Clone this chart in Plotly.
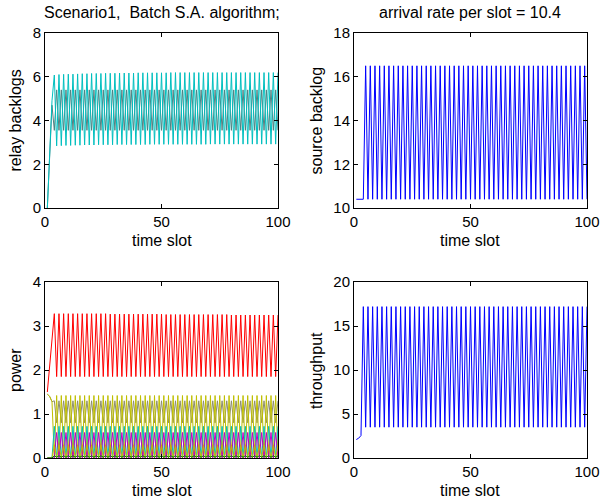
import plotly.graph_objects as go

W, H = 603, 502

time_slot = list(range(1, 101))

relay_teal = [
    0.00, 2.60, 4.90, 6.08, 2.84, 6.10, 2.85, 6.11, 2.86, 6.12,
    2.86, 6.12, 2.87, 6.13, 2.87, 6.14, 2.88, 6.14, 2.88, 6.15,
    2.88, 6.15, 2.89, 6.15, 2.89, 6.16, 2.89, 6.16, 2.89, 6.16,
    2.90, 6.17, 2.90, 6.17, 2.90, 6.17, 2.90, 6.17, 2.90, 6.18,
    2.90, 6.18, 2.90, 6.18, 2.91, 6.18, 2.91, 6.18, 2.91, 6.18,
    2.91, 6.18, 2.91, 6.19, 2.91, 6.19, 2.91, 6.19, 2.91, 6.19,
    2.91, 6.19, 2.91, 6.19, 2.91, 6.19, 2.91, 6.19, 2.91, 6.19,
    2.92, 6.19, 2.92, 6.19, 2.92, 6.19, 2.92, 6.19, 2.92, 6.19,
    2.92, 6.19, 2.92, 6.19, 2.92, 6.19, 2.92, 6.19, 2.92, 6.19,
    2.92, 6.19, 2.92, 6.19, 2.92, 6.19, 2.92, 6.19, 2.92, 6.19,
]

relay_gray = [
    0.00, 2.50, 4.70, 3.55, 5.40, 3.55, 5.40, 3.55, 5.40, 3.55,
    5.40, 3.55, 5.40, 3.55, 5.40, 3.55, 5.40, 3.55, 5.40, 3.55,
    5.40, 3.55, 5.40, 3.55, 5.40, 3.55, 5.40, 3.55, 5.40, 3.55,
    5.40, 3.55, 5.40, 3.55, 5.40, 3.55, 5.40, 3.55, 5.40, 3.55,
    5.40, 3.55, 5.40, 3.55, 5.40, 3.55, 5.40, 3.55, 5.40, 3.55,
    5.40, 3.55, 5.40, 3.55, 5.40, 3.55, 5.40, 3.55, 5.40, 3.55,
    5.40, 3.55, 5.40, 3.55, 5.40, 3.55, 5.40, 3.55, 5.40, 3.55,
    5.40, 3.55, 5.40, 3.55, 5.40, 3.55, 5.40, 3.55, 5.40, 3.55,
    5.40, 3.55, 5.40, 3.55, 5.40, 3.55, 5.40, 3.55, 5.40, 3.55,
    5.40, 3.55, 5.40, 3.55, 5.40, 3.55, 5.40, 3.55, 5.40, 3.55,
]

source_backlog = [
    10.4, 10.4, 10.4, 10.4, 16.5, 10.4, 16.5, 10.4, 16.5, 10.4,
    16.5, 10.4, 16.5, 10.4, 16.5, 10.4, 16.5, 10.4, 16.5, 10.4,
    16.5, 10.4, 16.5, 10.4, 16.5, 10.4, 16.5, 10.4, 16.5, 10.4,
    16.5, 10.4, 16.5, 10.4, 16.5, 10.4, 16.5, 10.4, 16.5, 10.4,
    16.5, 10.4, 16.5, 10.4, 16.5, 10.4, 16.5, 10.4, 16.5, 10.4,
    16.5, 10.4, 16.5, 10.4, 16.5, 10.4, 16.5, 10.4, 16.5, 10.4,
    16.5, 10.4, 16.5, 10.4, 16.5, 10.4, 16.5, 10.4, 16.5, 10.4,
    16.5, 10.4, 16.5, 10.4, 16.5, 10.4, 16.5, 10.4, 16.5, 10.4,
    16.5, 10.4, 16.5, 10.4, 16.5, 10.4, 16.5, 10.4, 16.5, 10.4,
    16.5, 10.4, 16.5, 10.4, 16.5, 10.4, 16.5, 10.4, 16.5, 10.4,
]

power_red = [
    1.50, 2.10, 2.70, 3.28, 1.85, 3.28, 1.85, 3.28, 1.85, 3.28,
    1.85, 3.28, 1.85, 3.28, 1.85, 3.28, 1.85, 3.28, 1.85, 3.28,
    1.85, 3.28, 1.85, 3.28, 1.85, 3.28, 1.85, 3.27, 1.85, 3.27,
    1.85, 3.27, 1.85, 3.27, 1.85, 3.27, 1.85, 3.27, 1.85, 3.27,
    1.85, 3.27, 1.85, 3.27, 1.85, 3.27, 1.85, 3.27, 1.85, 3.27,
    1.85, 3.26, 1.85, 3.26, 1.85, 3.26, 1.85, 3.26, 1.85, 3.26,
    1.85, 3.26, 1.85, 3.26, 1.85, 3.26, 1.85, 3.26, 1.85, 3.26,
    1.85, 3.26, 1.85, 3.26, 1.85, 3.26, 1.85, 3.26, 1.85, 3.25,
    1.85, 3.25, 1.85, 3.25, 1.85, 3.25, 1.85, 3.25, 1.85, 3.25,
    1.85, 3.25, 1.85, 3.25, 1.85, 3.25, 1.85, 3.25, 1.85, 3.25,
]

power_olive = [
    1.45, 1.40, 1.28, 0.02, 1.42, 0.02, 1.42, 0.02, 1.42, 0.02,
    1.42, 0.02, 1.42, 0.02, 1.42, 0.02, 1.42, 0.02, 1.42, 0.02,
    1.42, 0.02, 1.42, 0.02, 1.42, 0.02, 1.42, 0.02, 1.42, 0.02,
    1.42, 0.02, 1.42, 0.02, 1.42, 0.02, 1.42, 0.02, 1.42, 0.02,
    1.42, 0.02, 1.42, 0.02, 1.42, 0.02, 1.42, 0.02, 1.42, 0.02,
    1.42, 0.02, 1.42, 0.02, 1.42, 0.02, 1.42, 0.02, 1.42, 0.02,
    1.42, 0.02, 1.42, 0.02, 1.42, 0.02, 1.42, 0.02, 1.42, 0.02,
    1.42, 0.02, 1.42, 0.02, 1.42, 0.02, 1.42, 0.02, 1.42, 0.02,
    1.42, 0.02, 1.42, 0.02, 1.42, 0.02, 1.42, 0.02, 1.42, 0.02,
    1.42, 0.02, 1.42, 0.02, 1.42, 0.02, 1.42, 0.02, 1.42, 0.02,
]

power_gray = [
    1.45, 1.40, 1.28, 1.30, 0.80, 1.30, 0.80, 1.30, 0.80, 1.30,
    0.80, 1.30, 0.80, 1.30, 0.80, 1.30, 0.80, 1.30, 0.80, 1.30,
    0.80, 1.30, 0.80, 1.30, 0.80, 1.30, 0.80, 1.30, 0.80, 1.30,
    0.80, 1.30, 0.80, 1.30, 0.80, 1.30, 0.80, 1.30, 0.80, 1.30,
    0.80, 1.30, 0.80, 1.30, 0.80, 1.30, 0.80, 1.30, 0.80, 1.30,
    0.80, 1.30, 0.80, 1.30, 0.80, 1.30, 0.80, 1.30, 0.80, 1.30,
    0.80, 1.30, 0.80, 1.30, 0.80, 1.30, 0.80, 1.30, 0.80, 1.30,
    0.80, 1.30, 0.80, 1.30, 0.80, 1.30, 0.80, 1.30, 0.80, 1.30,
    0.80, 1.30, 0.80, 1.30, 0.80, 1.30, 0.80, 1.30, 0.80, 1.30,
    0.80, 1.30, 0.80, 1.30, 0.80, 1.30, 0.80, 1.30, 0.80, 1.30,
]

power_cyan = [
    0.00, 0.00, 0.00, 0.72, 0.00, 0.72, 0.00, 0.72, 0.00, 0.72,
    0.00, 0.72, 0.00, 0.72, 0.00, 0.72, 0.00, 0.72, 0.00, 0.72,
    0.00, 0.72, 0.00, 0.72, 0.00, 0.72, 0.00, 0.72, 0.00, 0.72,
    0.00, 0.72, 0.00, 0.72, 0.00, 0.72, 0.00, 0.72, 0.00, 0.72,
    0.00, 0.72, 0.00, 0.72, 0.00, 0.72, 0.00, 0.72, 0.00, 0.72,
    0.00, 0.72, 0.00, 0.72, 0.00, 0.72, 0.00, 0.72, 0.00, 0.72,
    0.00, 0.72, 0.00, 0.72, 0.00, 0.72, 0.00, 0.72, 0.00, 0.72,
    0.00, 0.72, 0.00, 0.72, 0.00, 0.72, 0.00, 0.72, 0.00, 0.72,
    0.00, 0.72, 0.00, 0.72, 0.00, 0.72, 0.00, 0.72, 0.00, 0.72,
    0.00, 0.72, 0.00, 0.72, 0.00, 0.72, 0.00, 0.72, 0.00, 0.72,
]

power_magenta = [
    0.00, 0.00, 0.00, 0.00, 0.58, 0.00, 0.58, 0.00, 0.58, 0.00,
    0.58, 0.00, 0.58, 0.00, 0.58, 0.00, 0.58, 0.00, 0.58, 0.00,
    0.58, 0.00, 0.58, 0.00, 0.58, 0.00, 0.58, 0.00, 0.58, 0.00,
    0.58, 0.00, 0.58, 0.00, 0.58, 0.00, 0.58, 0.00, 0.58, 0.00,
    0.58, 0.00, 0.58, 0.00, 0.58, 0.00, 0.58, 0.00, 0.58, 0.00,
    0.58, 0.00, 0.58, 0.00, 0.58, 0.00, 0.58, 0.00, 0.58, 0.00,
    0.58, 0.00, 0.58, 0.00, 0.58, 0.00, 0.58, 0.00, 0.58, 0.00,
    0.58, 0.00, 0.58, 0.00, 0.58, 0.00, 0.58, 0.00, 0.58, 0.00,
    0.58, 0.00, 0.58, 0.00, 0.58, 0.00, 0.58, 0.00, 0.58, 0.00,
    0.58, 0.00, 0.58, 0.00, 0.58, 0.00, 0.58, 0.00, 0.58, 0.00,
]

power_yellow = [
    0.00, 0.00, 0.00, 0.30, 0.00, 0.30, 0.00, 0.30, 0.00, 0.30,
    0.00, 0.30, 0.00, 0.30, 0.00, 0.30, 0.00, 0.30, 0.00, 0.30,
    0.00, 0.30, 0.00, 0.30, 0.00, 0.30, 0.00, 0.30, 0.00, 0.30,
    0.00, 0.30, 0.00, 0.30, 0.00, 0.30, 0.00, 0.30, 0.00, 0.30,
    0.00, 0.30, 0.00, 0.30, 0.00, 0.30, 0.00, 0.30, 0.00, 0.30,
    0.00, 0.30, 0.00, 0.30, 0.00, 0.30, 0.00, 0.30, 0.00, 0.30,
    0.00, 0.30, 0.00, 0.30, 0.00, 0.30, 0.00, 0.30, 0.00, 0.30,
    0.00, 0.30, 0.00, 0.30, 0.00, 0.30, 0.00, 0.30, 0.00, 0.30,
    0.00, 0.30, 0.00, 0.30, 0.00, 0.30, 0.00, 0.30, 0.00, 0.30,
    0.00, 0.30, 0.00, 0.30, 0.00, 0.30, 0.00, 0.30, 0.00, 0.30,
]

power_green = [
    0.00, 0.00, 0.00, 0.05, 0.02, 0.05, 0.02, 0.05, 0.02, 0.05,
    0.02, 0.05, 0.02, 0.05, 0.02, 0.05, 0.02, 0.05, 0.02, 0.05,
    0.02, 0.05, 0.02, 0.05, 0.02, 0.05, 0.02, 0.05, 0.02, 0.05,
    0.02, 0.05, 0.02, 0.05, 0.02, 0.05, 0.02, 0.05, 0.02, 0.05,
    0.02, 0.05, 0.02, 0.05, 0.02, 0.05, 0.02, 0.05, 0.02, 0.05,
    0.02, 0.05, 0.02, 0.05, 0.02, 0.05, 0.02, 0.05, 0.02, 0.05,
    0.02, 0.05, 0.02, 0.05, 0.02, 0.05, 0.02, 0.05, 0.02, 0.05,
    0.02, 0.05, 0.02, 0.05, 0.02, 0.05, 0.02, 0.05, 0.02, 0.05,
    0.02, 0.05, 0.02, 0.05, 0.02, 0.05, 0.02, 0.05, 0.02, 0.05,
    0.02, 0.05, 0.02, 0.05, 0.02, 0.05, 0.02, 0.05, 0.02, 0.05,
]

throughput = [
    2.10, 2.25, 2.55, 17.2, 3.5, 17.2, 3.5, 17.2, 3.5, 17.2,
    3.5, 17.2, 3.5, 17.2, 3.5, 17.2, 3.5, 17.2, 3.5, 17.2,
    3.5, 17.2, 3.5, 17.2, 3.5, 17.2, 3.5, 17.2, 3.5, 17.2,
    3.5, 17.2, 3.5, 17.2, 3.5, 17.2, 3.5, 17.2, 3.5, 17.2,
    3.5, 17.2, 3.5, 17.2, 3.5, 17.2, 3.5, 17.2, 3.5, 17.2,
    3.5, 17.2, 3.5, 17.2, 3.5, 17.2, 3.5, 17.2, 3.5, 17.2,
    3.5, 17.2, 3.5, 17.2, 3.5, 17.2, 3.5, 17.2, 3.5, 17.2,
    3.5, 17.2, 3.5, 17.2, 3.5, 17.2, 3.5, 17.2, 3.5, 17.2,
    3.5, 17.2, 3.5, 17.2, 3.5, 17.2, 3.5, 17.2, 3.5, 17.2,
    3.5, 17.2, 3.5, 17.2, 3.5, 17.2, 3.5, 17.2, 3.5, 17.2,
]

x_ticks = [0, 50, 100]

FONT = "Liberation Sans, Arial, sans-serif"
TICK_SIZE = 15
LABEL_SIZE = 16


def px_x(p):
    return p / W


def px_y(p):
    return 1 - p / H


# axes pixel boxes (left, right, top, bottom)
boxes = {
    1: (45, 278, 33, 208),
    2: (354, 587, 33, 208),
    3: (45, 278, 282, 458),
    4: (354, 587, 282, 458),
}

fig = go.Figure()


def add(y, color, ax, width=1.0):
    sfx = "" if ax == 1 else str(ax)
    fig.add_trace(go.Scatter(
        x=time_slot, y=y, mode="lines",
        line=dict(color=color, width=width),
        xaxis="x" + sfx, yaxis="y" + sfx, showlegend=False,
        hoverinfo="skip",
    ))


add(relay_gray, "rgb(80,130,130)", 1)
add(relay_teal, "rgb(0,191,191)", 1)
add(source_backlog, "rgb(0,0,255)", 2)
add(power_red, "rgb(255,0,0)", 3)
add(power_gray, "rgb(140,140,110)", 3)
add(power_olive, "rgb(191,191,0)", 3)
add(power_cyan, "rgb(0,191,191)", 3)
add(power_magenta, "rgb(191,0,191)", 3)
add(power_yellow, "rgb(191,191,0)", 3)
add(power_green, "rgb(0,128,0)", 3)
add(throughput, "rgb(0,0,255)", 4)

y_specs = {
    1: ([0, 8], [0, 2, 4, 6, 8]),
    2: ([10, 18], [10, 12, 14, 16, 18]),
    3: ([0, 4], [0, 1, 2, 3, 4]),
    4: ([0, 20], [0, 5, 10, 15, 20]),
}

layout = dict(
    width=W, height=H,
    margin=dict(l=0, r=0, t=0, b=0, autoexpand=False),
    paper_bgcolor="white", plot_bgcolor="white",
    font=dict(family=FONT, size=TICK_SIZE, color="black"),
    showlegend=False,
)

for i, (l, r, t, b) in boxes.items():
    sfx = "" if i == 1 else str(i)
    common = dict(
        showline=True, linecolor="black", linewidth=1, mirror="ticks",
        ticks="inside", ticklen=4, tickcolor="black", tickwidth=1,
        showgrid=False, zeroline=False, automargin=False,
        tickfont=dict(family=FONT, size=TICK_SIZE, color="black"),
    )
    layout["xaxis" + sfx] = dict(
        common, domain=[px_x(l), px_x(r)], range=[0, 100],
        tickvals=x_ticks, anchor="y" + sfx,
    )
    rng, tv = y_specs[i]
    layout["yaxis" + sfx] = dict(
        common, domain=[px_y(b), px_y(t)], range=rng,
        tickvals=tv, anchor="x" + sfx,
    )

fig.update_layout(**layout)

ann = []
titles = {1: "Scenario1,  Batch S.A. algorithm;", 2: "arrival rate per slot = 10.4"}
for i, txt in titles.items():
    l, r, t, b = boxes[i]
    ann.append(dict(text=txt, x=px_x((l + r) / 2), y=px_y(13), xref="paper", yref="paper",
                    showarrow=False, xanchor="center", yanchor="middle",
                    font=dict(family=FONT, size=LABEL_SIZE, color="black")))

ylabels = {1: "relay backlogs", 2: "source backlog", 3: "power", 4: "throughput"}
ylab_x = {1: 15, 2: 316, 3: 15, 4: 316}
for i, (l, r, t, b) in boxes.items():
    ann.append(dict(text="time slot", x=px_x((l + r) / 2), y=px_y(b + 32), xref="paper", yref="paper",
                    showarrow=False, xanchor="center", yanchor="middle",
                    font=dict(family=FONT, size=LABEL_SIZE, color="black")))
    ann.append(dict(text=ylabels[i], x=px_x(ylab_x[i]), y=px_y((t + b) / 2), xref="paper", yref="paper",
                    showarrow=False, xanchor="center", yanchor="middle", textangle=-90,
                    font=dict(family=FONT, size=LABEL_SIZE, color="black")))

fig.update_layout(annotations=ann)

# remove the default page margin so the figure sits at the window's top-left corner
fig.write_html(
    "out.html",
    config={"displayModeBar": False, "staticPlot": True},
    post_script="document.body.style.margin='0px';",
)
